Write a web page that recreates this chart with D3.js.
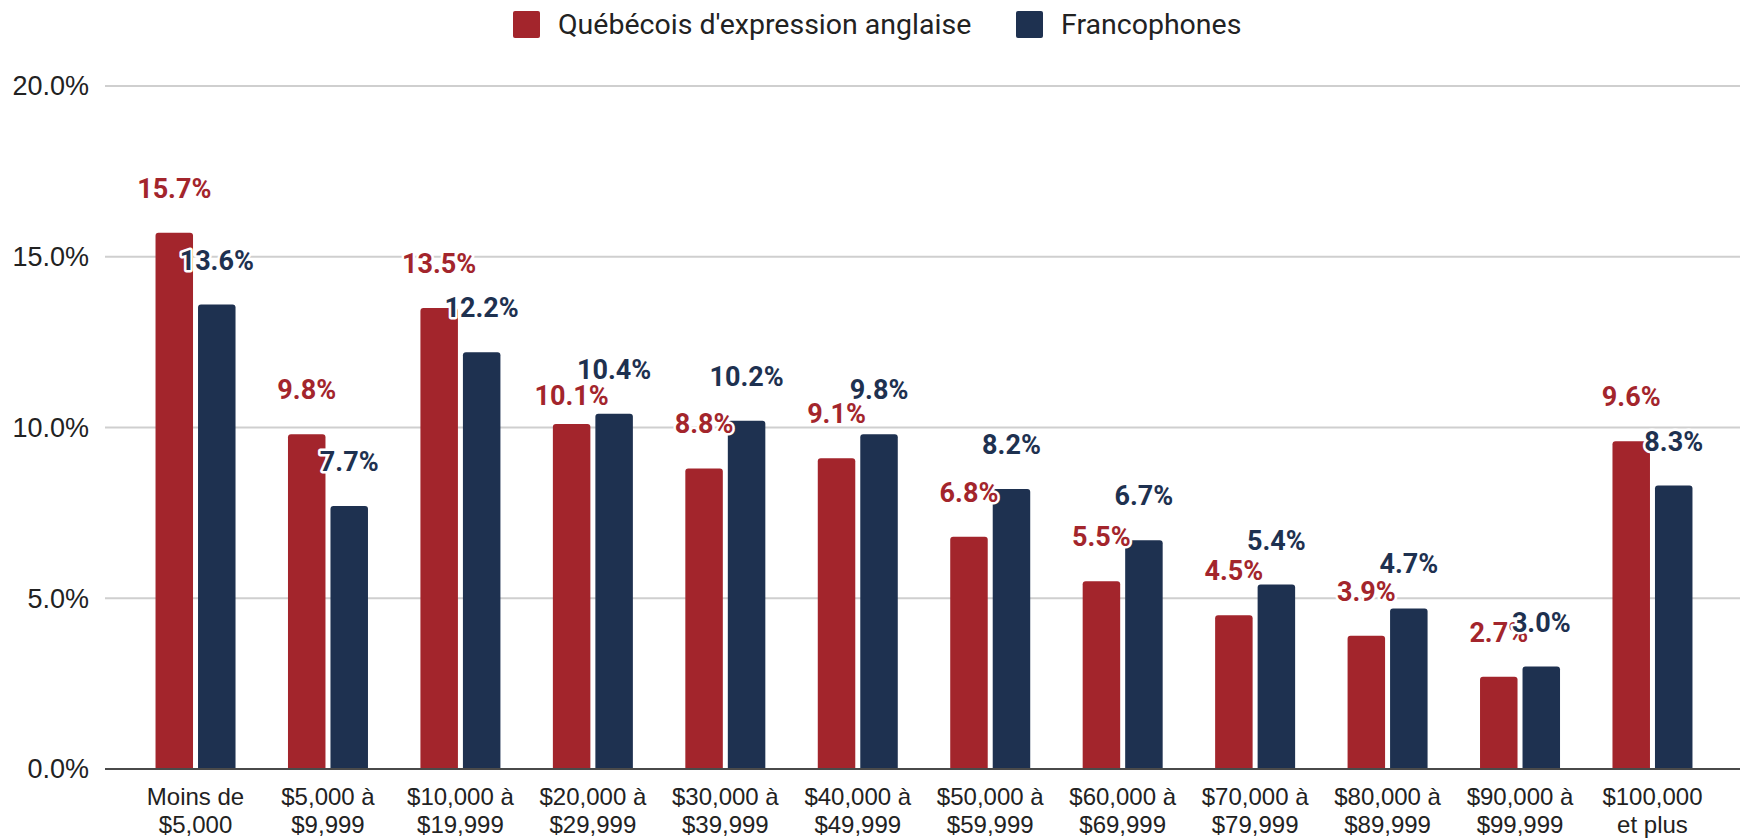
<!DOCTYPE html>
<meta charset="utf-8">
<style>

body {
  margin: 0;
  background: #fff;
}

.axis-label {
  font-family: "Liberation Sans", Arial, sans-serif;
  font-size: 24px;
  fill: #222;
}

.y-label {
  font-size: 27px;
}

.legend-label {
  font-family: Roboto, sans-serif;
  font-size: 28.5px;
  fill: #222;
}

.value-label {
  font-family: Roboto, sans-serif;
  font-weight: bold;
  font-size: 27px;
  paint-order: stroke;
  stroke: #fff;
  stroke-width: 5px;
  stroke-linejoin: round;
}

</style>
<svg></svg>
<script src="https://d3js.org/d3.v7.min.js"></script>
<script>

var width = 1740,
    height = 838;

var categories = [
  ["Moins de", "$5,000"],
  ["$5,000 à", "$9,999"],
  ["$10,000 à", "$19,999"],
  ["$20,000 à", "$29,999"],
  ["$30,000 à", "$39,999"],
  ["$40,000 à", "$49,999"],
  ["$50,000 à", "$59,999"],
  ["$60,000 à", "$69,999"],
  ["$70,000 à", "$79,999"],
  ["$80,000 à", "$89,999"],
  ["$90,000 à", "$99,999"],
  ["$100,000", "et plus"]
];

var seriesNames = ["Québécois d'expression anglaise", "Francophones"];
var seriesColors = ["#a3252c", "#1e3150"];

var anglophones = [15.7, 9.8, 13.5, 10.1, 8.8, 9.1, 6.8, 5.5, 4.5, 3.9, 2.7, 9.6];
var francophones = [13.6, 7.7, 12.2, 10.4, 10.2, 9.8, 8.2, 6.7, 5.4, 4.7, 3.0, 8.3];

var yTicks = [0, 5, 10, 15, 20];

var series = [anglophones, francophones];

var svg = d3.select("svg")
    .attr("width", width)
    .attr("height", height);

var x0 = d3.scaleBand()
    .domain(d3.range(categories.length))
    .range([129.3, 1718.7]);

var x1 = d3.scaleBand()
    .domain([0, 1])
    .range([-40, 40])
    .paddingInner(0.1176);

var y = d3.scaleLinear()
    .domain([0, 20])
    .range([769, 86]);

// gridlines + y labels
var yAxis = svg.append("g");

yAxis.selectAll("line")
    .data(yTicks.filter(function(d) { return d > 0; }))
  .enter().append("line")
    .attr("x1", 105)
    .attr("x2", width)
    .attr("y1", function(d) { return y(d); })
    .attr("y2", function(d) { return y(d); })
    .attr("stroke", "#cfcfcf")
    .attr("stroke-width", 2);

yAxis.selectAll("text")
    .data(yTicks)
  .enter().append("text")
    .attr("class", "axis-label y-label")
    .attr("x", 89)
    .attr("y", function(d) { return y(d); })
    .attr("dy", "0.35em")
    .attr("text-anchor", "end")
    .text(function(d) { return d.toFixed(1) + "%"; });

// rounded-top bar path
function barPath(x, yTop, w, yBase, r) {
  r = Math.min(r, yBase - yTop);
  return "M" + x + "," + yBase +
      "V" + (yTop + r) +
      "Q" + x + "," + yTop + " " + (x + r) + "," + yTop +
      "H" + (x + w - r) +
      "Q" + (x + w) + "," + yTop + " " + (x + w) + "," + (yTop + r) +
      "V" + yBase + "Z";
}

function cx(i) { return x0(i) + x0.bandwidth() / 2; }

var groups = svg.append("g").selectAll("g")
    .data(categories)
  .enter().append("g")
    .attr("transform", function(d, i) { return "translate(" + cx(i) + ",0)"; });

groups.selectAll("path")
    .data(function(d, i) { return series.map(function(s, k) { return {k: k, v: s[i]}; }); })
  .enter().append("path")
    .attr("fill", function(d) { return seriesColors[d.k]; })
    .attr("d", function(d) { return barPath(x1(d.k), y(d.v), x1.bandwidth(), y(0), 3); });

// x axis line
svg.append("line")
    .attr("x1", 105)
    .attr("x2", width)
    .attr("y1", y(0))
    .attr("y2", y(0))
    .attr("stroke", "#4a4a4a")
    .attr("stroke-width", 2);

// x labels
groups.append("text")
    .attr("class", "axis-label")
    .attr("text-anchor", "middle")
    .selectAll("tspan")
    .data(function(d) { return d; })
  .enter().append("tspan")
    .attr("x", 0)
    .attr("y", function(d, j) { return 805 + j * 28; })
    .text(function(d) { return d; });

// value label positions: 35px above the bar top; in the upper part of the
// chart a red label that runs into its navy neighbour is dropped below it
var labelGap = 35;
var labelRows = series.map(function(s, k) {
  return s.map(function(v, i) {
    return {k: k, v: v, x: cx(i) + x1(k) + x1.bandwidth() / 2, y: y(v) - labelGap};
  });
});

labelRows[0].forEach(function(a, i) {
  var b = labelRows[1][i];
  var overlap = Math.abs(a.y - b.y) < 20 && a.v >= 5;
  if (overlap) a.y = b.y + 26;
});

// drawn series by series so navy sits on top
labelRows.forEach(function(row, k) {
  svg.append("g").selectAll("text")
      .data(row)
    .enter().append("text")
      .attr("class", "value-label")
      .attr("fill", seriesColors[k])
      .attr("text-anchor", "middle")
      .attr("x", function(d) { return d.x; })
      .attr("y", function(d) { return d.y; })
      .text(function(d) { return d.v.toFixed(1) + "%"; });
});

// legend
var legendX = [513, 1016];
var legend = svg.append("g").selectAll("g")
    .data(seriesNames)
  .enter().append("g")
    .attr("transform", function(d, i) { return "translate(" + legendX[i] + ",11)"; });

legend.append("rect")
    .attr("width", 27)
    .attr("height", 27)
    .attr("rx", 2)
    .attr("fill", function(d, i) { return seriesColors[i]; });

legend.append("text")
    .attr("class", "legend-label")
    .attr("x", 45)
    .attr("y", 23)
    .text(function(d) { return d; });

</script>
